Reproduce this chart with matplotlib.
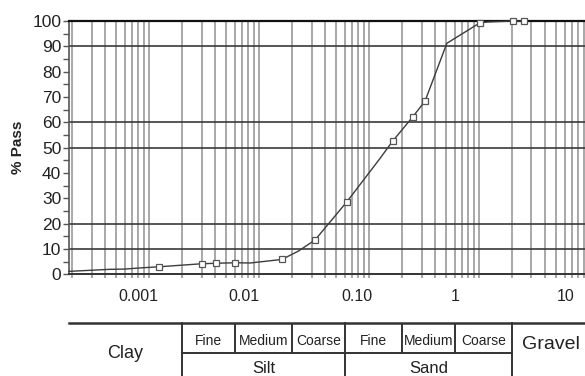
import numpy as np
import matplotlib
matplotlib.use("Agg")
import matplotlib.pyplot as plt
from matplotlib.ticker import LogLocator, NullFormatter, MultipleLocator
from matplotlib.transforms import ScaledTranslation

plt.rcParams['font.family'] = ['Liberation Sans', 'DejaVu Sans']

# grain size (mm) vs percent passing
size_mm = [0.000187, 0.00044, 0.0006, 0.00086, 0.00123, 0.0030, 0.0041, 0.0061,
           0.0083, 0.0161, 0.0228, 0.0323, 0.063, 0.124, 0.164, 0.25, 0.323,
           0.51, 1.02, 1.2, 2.05, 2.58]
pct_pass = [1.2, 2.0, 2.1, 2.6, 3.0, 4.2, 4.4, 4.6, 4.5, 5.9, 9.2, 13.6, 28.7,
            45.4, 52.6, 62.2, 68.4, 91.2, 99.3, 99.6, 100, 100]
marked = [4, 5, 6, 7, 9, 11, 12, 14, 15, 16, 18, 20, 21]  # points drawn with a square

# dark horizontal grid lines (others missing in the original)
hgrid = [10, 20, 50, 60, 90]

# x tick labels
dec_vals = [0.001, 0.01, 0.1, 1, 10]
dec_text = ['0.001', '0.01', '0.10', '1', '10']

# soil classification table (boundaries in mm)
main_bounds = [0.002, 0.06, 2]
sub_bounds = [0.006, 0.02, 0.2, 0.6]
silt_cells = [(0.002, 0.006), (0.006, 0.02), (0.02, 0.06)]
sand_cells = [(0.06, 0.2), (0.2, 0.6), (0.6, 2)]
sub_names = ['Fine', 'Medium', 'Coarse']

W, H = 585, 376
x_lo, x_hi = 0.000187, 20
ax_left, ax_right = 69, 622.1
y_top, y_bot = 21, 274.4

fig = plt.figure(figsize=(W / 100, H / 100), dpi=100)
ax = fig.add_axes([ax_left / W, (H - y_bot) / H, (ax_right - ax_left) / W, (y_bot - y_top) / H])
ax.set_xscale('log')
ax.set_xlim(x_lo, x_hi)
ax.set_ylim(0, 100)
ax.set_axisbelow(True)

ax.xaxis.set_major_locator(LogLocator(base=10, numticks=20))
ax.xaxis.set_minor_locator(LogLocator(base=10, subs=np.arange(2, 10), numticks=20))
ax.xaxis.set_major_formatter(NullFormatter())
ax.xaxis.set_minor_formatter(NullFormatter())
ax.grid(True, which='both', axis='x', color='#a8a8a8', lw=1.4)
ax.tick_params(axis='x', which='both', direction='out', length=3, width=1.4, color='#a8a8a8')

ax.set_yticks(range(0, 101, 10))
ax.yaxis.set_minor_locator(MultipleLocator(5))
ax.tick_params(axis='y', which='both', direction='out', length=4, width=1, color='#555',
               labelsize=12.5, pad=1.5, labelcolor='#222')

for y in hgrid:
    ax.axhline(y, color='#3a3a3a', lw=1.2, zorder=1)

ax.spines['right'].set_visible(False)
ax.spines['top'].set_color('#111')
ax.spines['top'].set_linewidth(1.6)
ax.spines['left'].set_color('#555')
ax.spines['left'].set_linewidth(1.2)
ax.spines['bottom'].set_color('#333')
ax.spines['bottom'].set_linewidth(1.4)

ax.plot(size_mm, pct_pass, color='#3c3c3c', lw=1.0, marker='s', markevery=marked,
        ms=4, mfc='white', mec='#555', mew=0.9, zorder=4, clip_on=False)

# labels sit a bit left of their grid lines in the original
shift_px = [-11, -15, -12, -24, -23]
for v, t, s in zip(dec_vals, dec_text, shift_px):
    tr = ax.get_xaxis_transform() + ScaledTranslation(s / 100, -22.3 / 100, fig.dpi_scale_trans)
    ax.text(v, 0, t, transform=tr, ha='center', va='center', fontsize=11.5, color='#222')

fig.text(18 / W, 1 - 147 / H, '% Pass', rotation=90, ha='center', va='center',
         fontsize=11, fontweight='bold', color='#222')

# classification table under the plot
tab = fig.add_axes([ax_left / W, 0, (ax_right - ax_left) / W, (H - 322.7) / H])
tab.set_xscale('log')
tab.set_xlim(x_lo, x_hi)
tab.set_ylim(0, 1)
tab.axis('off')
lc = '#333'
mid = 0.43
tab.plot([x_lo, x_hi], [1, 1], color=lc, lw=1.8, clip_on=False)
tab.plot([0.002, 2], [mid, mid], color=lc, lw=1.4)
for b in main_bounds:
    tab.plot([b, b], [0, 1], color=lc, lw=1.4, clip_on=False)
for b in sub_bounds:
    tab.plot([b, b], [mid, 1], color=lc, lw=1.4)

def gmean(a, b):
    return np.sqrt(a * b)

for cells in (silt_cells, sand_cells):
    for (a, b), name in zip(cells, sub_names):
        tab.text(gmean(a, b), 0.657, name, ha='center', va='center', fontsize=10, color='#222')
tab.text(gmean(0.002, 0.06), 0.15, 'Silt', ha='center', va='center', fontsize=12, color='#222')
tab.text(gmean(0.06, 2), 0.15, 'Sand', ha='center', va='center', fontsize=12, color='#222')
tab.text(gmean(x_lo, 0.002), 0.43, 'Clay', ha='center', va='center', fontsize=13, color='#222')
tab.text(gmean(2, 10), 0.6, 'Gravel', ha='center', va='center', fontsize=14, color='#222')

fig.savefig('out.png', dpi=100)
